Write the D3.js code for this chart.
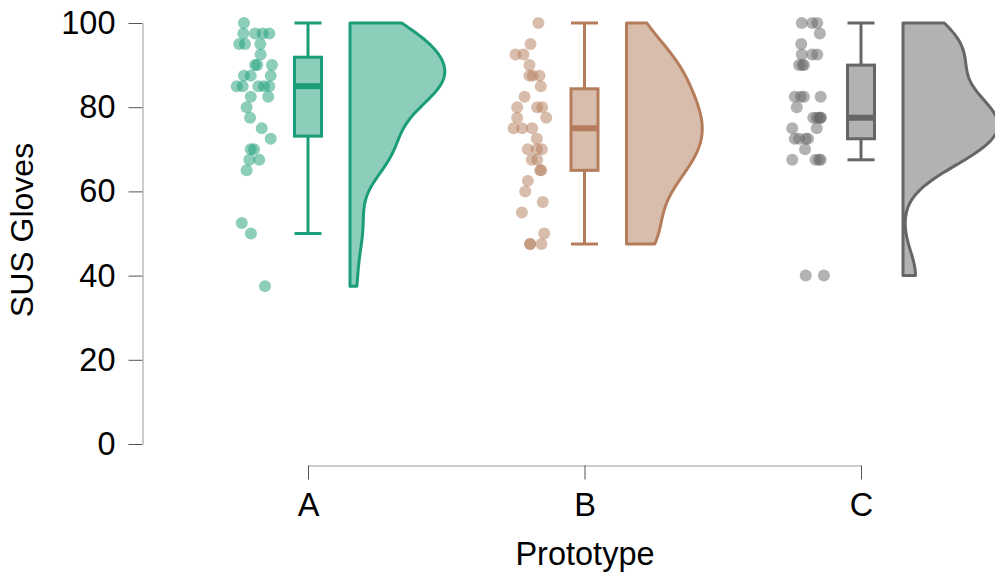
<!DOCTYPE html>
<html>
<head>
<meta charset="utf-8">
<script src="https://cdn.jsdelivr.net/npm/d3@7"></script>
<style>
  body { margin: 0; background: #fff; }
  text { font-family: "Liberation Sans", Arial, sans-serif; fill: #000; }
</style>
</head>
<body>
<svg id="chart"></svg>
<script>
// Categories and tick labels
var categories = ["A", "B", "C"];
var yTicks = [0, 20, 40, 60, 80, 100];

// SUS scores per prototype
var scoresA = [100, 97.5, 97.5, 97.5, 97.5, 95, 95, 95, 92.5, 90, 90, 90,
  87.5, 87.5, 87.5, 85, 85, 85, 85, 85, 82.5, 82.5, 80, 77.5, 75, 72.5,
  70, 70, 67.5, 67.5, 65, 52.5, 50, 37.5];
var scoresB = [100, 95, 92.5, 92.5, 90, 87.5, 87.5, 87.5, 85, 82.5, 80, 80, 80,
  77.5, 77.5, 75, 75, 75, 72.5, 70, 70, 70, 67.5, 67.5, 65, 65, 62.5, 60,
  57.5, 55, 50, 47.5, 47.5, 47.5];
var scoresC = [100, 100, 100, 97.5, 95, 92.5, 92.5, 92.5, 90, 90, 90,
  82.5, 82.5, 82.5, 82.5, 80, 77.5, 77.5, 77.5, 77.5, 77.5, 75, 75,
  72.5, 72.5, 72.5, 72.5, 70, 67.5, 67.5, 67.5, 67.5, 40, 40];

// Horizontal jitter of each point, as a fraction of the jitter band (-1..1)
var jitterA = [-0.56, -0.59, 0.06, 0.48, 0.85, -0.82, -0.5, 0.35, 0.37, 0.06, 0.18, 1.0,
  -0.56, -0.18, 0.93, -0.96, -0.63, 0.24, 0.56, 0.85, -0.18, 0.79, -0.41, -0.22, 0.43, 0.93,
  -0.18, 0, -0.26, 0.29, -0.41, -0.68, -0.17, 0.61];
var jitterB = [0.44, 0, -0.83, -0.39, -0.06, -0.06, 0.13, 0.5, 0.57, -0.33, -0.74, 0.37, 0.65,
  0.87, -0.74, -0.94, -0.46, 0.09, 0.35, -0.15, 0.35, 0.63, 0.07, 0.37, 0.54, 0.59, -0.15, -0.29,
  0.68, -0.48, 0.76, -0.02, -0.02, 0.61];
var jitterC = [-0.29, 0.29, 0.57, 0.71, -0.32, -0.29, 0.29, 0.57, -0.44, -0.26, -0.17,
  -0.68, -0.35, -0.17, 0.76, -0.57, 0.35, 0.54, 0.76, 0.76, 0.67, -0.82, 0.54,
  -0.68, -0.44, -0.07, 0.06, -0.11, -0.82, 0.48, 0.67, 0.76, -0.07, 0.94];

var colors = ["#1b9e77", "#b47c5a", "#666666"];

var groups = categories.map(function(c, i) {
  return {
    name: c,
    scores: [scoresA, scoresB, scoresC][i],
    jitter: [jitterA, jitterB, jitterC][i],
    color: colors[i]
  };
});

// SVG size params
var width = 995, height = 583;

var svg = d3.select("#chart")
    .attr("width", width)
    .attr("height", height);

// Scales
var x = d3.scalePoint()
          .domain(categories)
          .range([308, 861]);

var y = d3.scaleLinear()
          .domain([0, 100])
          .range([444, 23]);

var jit = d3.scaleLinear()
          .domain([-1, 1])
          .range([-72, -36]);

// Gaussian kernel density, bandwidth like R's bw.nrd0, trimmed to data range
function density(values) {
  var s = values.slice().sort(d3.ascending);
  var n = s.length;
  var iqr = d3.quantileSorted(s, 0.75) - d3.quantileSorted(s, 0.25);
  var bw = 0.9 * Math.min(d3.deviation(s), iqr / 1.34) * Math.pow(n, -0.2);
  var lo = s[0], hi = s[n - 1];
  return d3.range(256).map(function(i) {
    var v = lo + (hi - lo) * i / 255;
    var d = d3.sum(s, function(p) { return Math.exp(-0.5 * Math.pow((v - p) / bw, 2)); });
    return [v, d / (n * bw * Math.sqrt(2 * Math.PI))];
  });
}

groups.forEach(function(g) {
  var s = g.scores.slice().sort(d3.ascending);
  var q1 = d3.quantileSorted(s, 0.25);
  var q3 = d3.quantileSorted(s, 0.75);
  var iqr = q3 - q1;
  g.q1 = q1;
  g.med = d3.quantileSorted(s, 0.5);
  g.q3 = q3;
  g.lo = d3.min(s.filter(function(v) { return v >= q1 - 1.5 * iqr; }));
  g.hi = d3.max(s.filter(function(v) { return v <= q3 + 1.5 * iqr; }));
  g.dens = density(g.scores);
});

var maxDens = d3.max(groups, function(g) { return d3.max(g.dens, function(d) { return d[1]; }); });
var w = d3.scaleLinear().domain([0, maxDens]).range([0, 95]);

// Axes
var yAxis = d3.axisLeft(y).tickValues(yTicks).tickSize(14).tickSizeOuter(0).tickPadding(13);
var xAxis = d3.axisBottom(x).tickSize(14).tickSizeOuter(0).tickPadding(13);

var ya = svg.append("g")
    .attr("transform", "translate(142.5,0)")
    .call(yAxis);

var xa = svg.append("g")
    .attr("transform", "translate(0,465.5)")
    .call(xAxis);

[ya, xa].forEach(function(a) {
  a.select(".domain").attr("stroke", "#9a9a9a").attr("stroke-width", 1);
  a.selectAll(".tick line").attr("stroke", "#555").attr("stroke-width", 1);
  a.selectAll(".tick text").attr("font-size", 32.5).attr("fill", "#000")
    .attr("font-family", "Liberation Sans, Arial, sans-serif");
});

// Axis titles
svg.append("text")
    .attr("transform", "translate(33,230) rotate(-90)")
    .attr("text-anchor", "middle")
    .attr("font-size", 32)
    .text("SUS Gloves");

svg.append("text")
    .attr("x", 585)
    .attr("y", 565)
    .attr("text-anchor", "middle")
    .attr("font-size", 32.5)
    .text("Prototype");

var area = d3.area()
    .y(function(d) { return y(d[0]); })
    .x0(0)
    .x1(function(d) { return w(d[1]); })
    .curve(d3.curveLinear);

var boxW = 27;

var cloud = svg.selectAll(".cloud")
  .data(groups)
  .enter().append("g")
    .attr("class", "cloud")
    .attr("transform", function(d) { return "translate(" + x(d.name) + ",0)"; });

// Half violins
cloud.append("path")
    .attr("transform", "translate(42,0)")
    .attr("d", function(d) { return area(d.dens) + ""; })
    .attr("fill", function(d) { return d.color; })
    .attr("fill-opacity", 0.5)
    .attr("stroke", function(d) { return d.color; })
    .attr("stroke-width", 3)
    .attr("stroke-linejoin", "round");

// Whiskers
cloud.each(function(d) {
  var g = d3.select(this);
  [[d.q3, d.hi], [d.q1, d.lo]].forEach(function(seg) {
    g.append("line")
      .attr("x1", 0).attr("x2", 0)
      .attr("y1", y(seg[0])).attr("y2", y(seg[1]))
      .attr("stroke", d.color).attr("stroke-width", 3);
    g.append("line")
      .attr("x1", -boxW / 2).attr("x2", boxW / 2)
      .attr("y1", y(seg[1])).attr("y2", y(seg[1]))
      .attr("stroke", d.color).attr("stroke-width", 3);
  });
});

// Boxes
cloud.append("rect")
    .attr("x", -boxW / 2)
    .attr("width", boxW)
    .attr("y", function(d) { return y(d.q3); })
    .attr("height", function(d) { return y(d.q1) - y(d.q3); })
    .attr("fill", function(d) { return d.color; })
    .attr("fill-opacity", 0.5)
    .attr("stroke", function(d) { return d.color; })
    .attr("stroke-width", 3);

cloud.append("line")
    .attr("x1", -boxW / 2).attr("x2", boxW / 2)
    .attr("y1", function(d) { return y(d.med); })
    .attr("y2", function(d) { return y(d.med); })
    .attr("stroke", function(d) { return d.color; })
    .attr("stroke-width", 6);

// Rain points
cloud.each(function(d) {
  d3.select(this).selectAll("circle")
    .data(d.scores.map(function(v, i) { return [v, d.jitter[i]]; }))
    .enter().append("circle")
      .attr("cx", function(p) { return jit(p[1]); })
      .attr("cy", function(p) { return y(p[0]); })
      .attr("r", 6)
      .attr("fill", d.color)
      .attr("fill-opacity", 0.5);
});
</script>
</body>
</html>
